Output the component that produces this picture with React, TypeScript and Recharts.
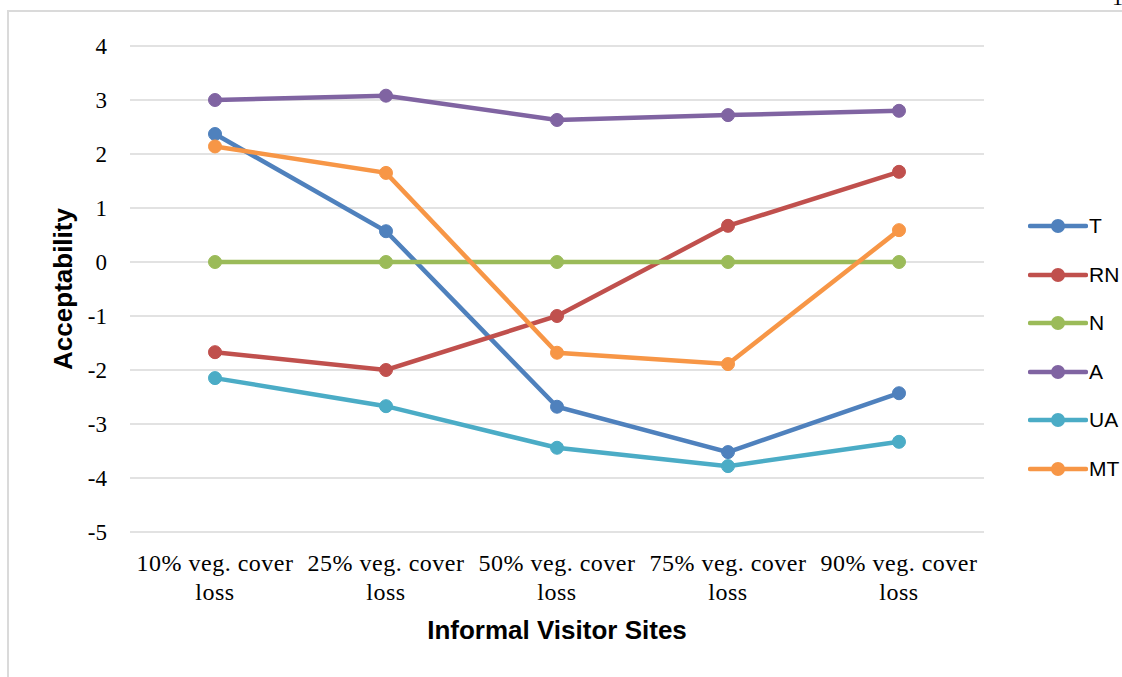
import React from "react";
import {
  LineChart,
  Line,
  XAxis,
  YAxis,
  CartesianGrid,
  Legend,
} from "recharts";

const categories = [
  "10% veg. cover loss",
  "25% veg. cover loss",
  "50% veg. cover loss",
  "75% veg. cover loss",
  "90% veg. cover loss",
];

const seriesT = [2.37, 0.57, -2.68, -3.52, -2.43];
const seriesRN = [-1.67, -2.0, -1.0, 0.67, 1.67];
const seriesN = [0, 0, 0, 0, 0];
const seriesA = [3.0, 3.08, 2.63, 2.72, 2.8];
const seriesUA = [-2.15, -2.67, -3.44, -3.78, -3.33];
const seriesMT = [2.14, 1.65, -1.68, -1.89, 0.59];

const yTicks = [-5, -4, -3, -2, -1, 0, 1, 2, 3, 4];

const series = [
  { key: "T", values: seriesT, color: "#4F81BD" },
  { key: "RN", values: seriesRN, color: "#C0504D" },
  { key: "N", values: seriesN, color: "#9BBB59" },
  { key: "A", values: seriesA, color: "#8064A2" },
  { key: "UA", values: seriesUA, color: "#4BACC6" },
  { key: "MT", values: seriesMT, color: "#F79646" },
];
const seriesOrder = series.map((s) => s.key);

const data = categories.map((name, i) => {
  const row: Record<string, string | number> = { name };
  series.forEach((s) => {
    row[s.key] = s.values[i];
  });
  return row;
});

const SERIF = "'Liberation Serif', 'DejaVu Serif', serif";
const SANS = "'Liberation Sans', Arial, sans-serif";

/* ── two-line category tick ─────────────────────────────── */
function SiteTick({ x, y, payload }: any) {
  const words = String(payload.value).split(" ");
  const last = words.pop();
  return (
    <text
      x={x}
      y={y}
      textAnchor="middle"
      fontFamily={SERIF}
      fontSize={24}
      letterSpacing={0.5}
      fill="#000"
    >
      <tspan x={x} dy={31}>
        {words.join(" ")}
      </tspan>
      <tspan x={x} dy={29}>
        {last}
      </tspan>
    </text>
  );
}

/* ── legend with line+dot swatches, kept in series order ── */
function SeriesLegend({ payload }: any) {
  const items = [...(payload || [])].sort(
    (a: any, b: any) => seriesOrder.indexOf(a.value) - seriesOrder.indexOf(b.value)
  );
  return (
    <div>
      {items.map((entry: any) => (
        <div
          key={entry.value}
          style={{ display: "flex", alignItems: "center", height: 48.5 }}
        >
          <svg width={60} height={16}>
            <line
              x1={2}
              x2={58}
              y1={8}
              y2={8}
              stroke={entry.color}
              strokeWidth={4.5}
              strokeLinecap="round"
            />
            <circle cx={30} cy={8} r={7} fill={entry.color} />
          </svg>
          <span style={{ fontFamily: SANS, fontSize: 21, color: "#000", marginLeft: 1 }}>
            {entry.value}
          </span>
        </div>
      ))}
    </div>
  );
}

export default function App() {
  return (
    <div style={{ position: "absolute", left: 0, top: 0, width: 1122, height: 677, overflow: "hidden", background: "#fff" }}>
      <div
        style={{
          position: "absolute",
          left: 7,
          top: 10,
          width: 1130,
          height: 700,
          borderLeft: "2px solid #dadada",
          borderTop: "2px solid #dadada",
        }}
      />
      <div style={{ position: "absolute", left: 1112, top: -15, fontFamily: SERIF, fontSize: 22, color: "#000" }}>1</div>
      <LineChart
        width={1122}
        height={677}
        data={data}
        margin={{ top: 46, right: 44, left: 40, bottom: 0 }}
        style={{ position: "absolute", left: 0, top: 0 }}
      >
        <CartesianGrid vertical={false} stroke="#d9d9d9" strokeWidth={1.5} />
        <XAxis
          dataKey="name"
          interval={0}
          tickLine={false}
          axisLine={false}
          height={145}
          padding={{ left: 85, right: 85 }}
          tick={<SiteTick />}
          label={{
            value: "Informal Visitor Sites",
            position: "insideBottom",
            offset: 38,
            style: { fontFamily: SANS, fontSize: 26, fontWeight: "bold", fill: "#000" },
          }}
        />
        <YAxis
          width={90}
          domain={[-5, 4]}
          ticks={yTicks}
          interval={0}
          tickLine={false}
          axisLine={false}
          tickMargin={17}
          tick={{ fontFamily: SERIF, fontSize: 23, fill: "#000" }}
          label={{
            value: "Acceptability",
            angle: -90,
            position: "insideLeft",
            offset: 23,
            style: { textAnchor: "middle", fontFamily: SANS, fontSize: 26, fontWeight: "bold", fill: "#000" },
          }}
        />
        <Legend
          layout="vertical"
          align="right"
          verticalAlign="middle"
          content={<SeriesLegend />}
          wrapperStyle={{ left: 1028, top: 202, right: "auto", width: 94 }}
        />
        {series.map((s) => (
          <Line
            key={s.key}
            dataKey={s.key}
            name={s.key}
            stroke={s.color}
            strokeWidth={4.5}
            dot={{ r: 6.5, fill: s.color, stroke: s.color, strokeWidth: 1 }}
            activeDot={false}
            isAnimationActive={false}
          />
        ))}
      </LineChart>
    </div>
  );
}
